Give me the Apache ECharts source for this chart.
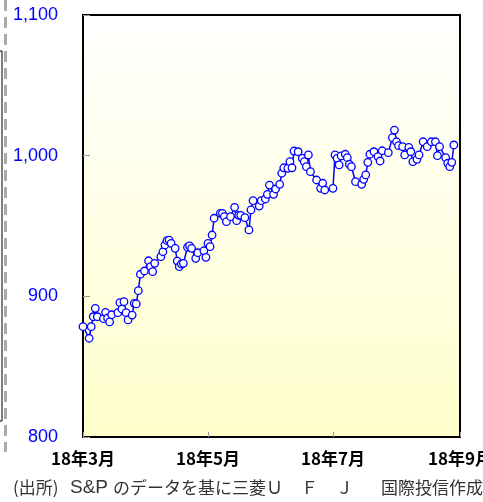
<!DOCTYPE html>
<html>
<head>
<meta charset="utf-8">
<script src="https://cdn.jsdelivr.net/npm/echarts@6/dist/echarts.min.js"></script>
<style>
  html, body { margin: 0; padding: 0; background: #ffffff; }
  #chart { width: 483px; height: 502px; }
</style>
</head>
<body>
<div id="chart"></div>
<script>
// Index level, daily closes from 1 Mar 2018 to end of Aug 2018.
// x values are calendar days counted from 2018-03-01.
var dayIndex = [
  0, 3, 4, 5, 6, 7, 10, 11, 12, 13, 14, 17, 18, 19, 20, 21, 22, 24, 25, 26, 27, 28, 30,
  32, 33, 34, 35, 38, 39, 40, 41, 42, 43, 45, 46, 47, 48, 49, 51, 52, 53, 55, 56, 59, 60,
  61, 62, 63, 64, 67, 68, 69, 70, 72, 74, 75, 76, 77, 79, 81, 82, 83, 86, 87, 89, 90, 91,
  93, 94, 96, 97, 98, 100, 101, 102, 103, 105, 107, 108, 109, 110, 111, 114, 116, 117, 118,
  122, 123, 124, 125, 126, 128, 129, 130, 131, 133, 136, 137, 138, 139, 140, 142, 144, 145, 146, 149, 151, 152,
  153, 154, 156, 157, 159, 160, 161, 163, 164, 166, 168, 170, 172, 173, 174, 177, 178, 179, 180, 181
];
var indexValues = [
  878.4, 870.2, 878.4, 885.5, 891.5, 885.5, 884.1, 888.6, 884.6, 881.8, 886.9, 888.4, 895.5, 891.0, 896.2, 888.4, 883.2, 886.7, 895.0, 894.6, 904.0, 915.7, 918.0,
  925.3, 921.1, 917.5, 923.5, 928.2, 931.7, 936.5, 939.6, 940.0, 937.7, 934.1, 925.1, 921.1, 923.0, 923.5, 934.9, 935.8, 934.1, 927.0, 931.0, 932.4, 927.7,
  937.7, 935.3, 943.6, 955.5, 959.0, 959.0, 956.6, 953.1, 956.6, 963.3, 953.8, 957.6, 957.6, 955.9, 947.2, 961.4, 968.0, 964.2, 968.0, 969.2, 972.5, 979.1,
  972.5, 976.3, 979.6, 987.5, 991.4, 991.0, 995.7, 991.4, 1003.3, 1002.8, 998.1, 995.7, 992.2, 1000.5, 988.6, 982.7, 976.8, 980.4, 975.6,
  976.8, 1000.5, 998.1, 993.4, 999.8, 1001.0, 998.6, 993.9, 992.2, 981.5, 979.6, 983.2, 986.3, 995.3, 1001.0, 1002.8, 999.3, 996.2, 1003.5, 1002.1, 1012.8, 1018.2,
  1009.9, 1007.1, 1006.4, 1000.5, 1005.9, 1002.8, 995.7, 997.4, 1000.5, 1009.9, 1006.4, 1009.9, 1009.9, 1000.0, 1006.4, 998.6, 994.6, 992.2, 995.3, 1007.6
];

// x-axis ticks (1 Mar, 1 May, 1 Jul, 1 Sep as day offsets) and their labels
var tickDays = [0, 61, 122, 184];
var tickLabels = ['18年3月', '18年5月', '18年7月', '18年9月'];

// y-axis range
var yMin = 800, yMax = 1100, yStep = 100;

// source note, split into runs so each can be spaced like the print layout
var noteRuns = [
  ['paren', '(出所)'],
  ['latin', 'S&P'],
  ['body', 'のデータを基に三菱'],
  ['wide', 'Ｕ'],
  ['wide', 'Ｆ'],
  ['wideEnd', 'Ｊ'],
  ['body', '国際投信作成']
];

var seriesData = dayIndex.map(function (d, i) { return [d, indexValues[i]]; });

var noteText = noteRuns.map(function (r) { return '{' + r[0] + '|' + r[1] + '}'; }).join('');
var noteBase = { fontSize: 17, fill: '#333333', fontFamily: '"Noto Sans CJK JP", sans-serif', lineHeight: 20 };
function noteStyle(extra) {
  var s = {};
  for (var k in noteBase) s[k] = noteBase[k];
  for (var j in extra) s[j] = extra[j];
  return s;
}

var chart = echarts.init(document.getElementById('chart'), null, { renderer: 'canvas' });

chart.setOption({
  animation: false,
  backgroundColor: '#ffffff',
  grid: {
    left: 83, right: 23, top: 15, bottom: 65,
    outerBoundsMode: 'none',
    containLabel: false,
    show: true,
    borderColor: '#000000',
    borderWidth: 2,
    backgroundColor: {
      type: 'linear', x: 0, y: 0, x2: 0, y2: 1,
      colorStops: [
        { offset: 0, color: '#ffffff' },
        { offset: 1, color: '#ffffcc' }
      ]
    }
  },
  xAxis: {
    type: 'value',
    min: tickDays[0],
    max: tickDays[tickDays.length - 1],
    axisLine: { show: true, lineStyle: { color: '#000000', width: 2 } },
    axisTick: {
      show: true, inside: true, length: 5,
      customValues: tickDays,
      lineStyle: { color: '#999999', width: 1 }
    },
    axisLabel: {
      show: true,
      customValues: tickDays,
      margin: 13,
      color: '#000000',
      fontSize: 17,
      fontWeight: 'bold',
      fontFamily: '"Noto Sans CJK JP", sans-serif',
      formatter: function (value) {
        var idx = tickDays.indexOf(value);
        return idx >= 0 ? tickLabels[idx] : '';
      }
    },
    splitLine: { show: false }
  },
  yAxis: {
    type: 'value',
    min: yMin,
    max: yMax,
    interval: yStep,
    axisLine: { show: true, lineStyle: { color: '#000000', width: 2 } },
    axisTick: { show: true, inside: true, length: 7, lineStyle: { color: '#999999', width: 1 } },
    axisLabel: {
      margin: 25,
      color: '#0000ff',
      fontSize: 18,
      fontFamily: '"Liberation Sans", Arial, sans-serif',
      formatter: function (v) { return v.toLocaleString('en-US'); }
    },
    splitLine: { show: false }
  },
  series: [{
    type: 'line',
    data: seriesData,
    symbol: 'circle',
    symbolSize: 7.5,
    showSymbol: true,
    lineStyle: { color: '#0000ff', width: 1.5 },
    itemStyle: { color: '#ffffff', borderColor: '#0000ff', borderWidth: 1.3 },
    z: 3
  }],
  graphic: [
    {
      type: 'line',
      shape: { x1: 5.5, y1: 0, x2: 5.5, y2: 452 },
      style: { stroke: '#aaaaaa', lineWidth: 3, lineDash: [11, 6] }
    },
    {
      type: 'polyline',
      shape: { points: [[0, 51], [2, 51], [2, 421], [0, 421]] },
      style: { stroke: '#000000', lineWidth: 1, fill: null }
    },
    {
      type: 'text',
      left: 13,
      top: 478,
      style: {
        text: noteText,
        fill: '#333333',
        fontSize: 17,
        fontFamily: '"Noto Sans CJK JP", sans-serif',
        rich: {
          paren: noteStyle({ width: 57, align: 'left' }),
          latin: noteStyle({ width: 43, align: 'left', fontFamily: '"Liberation Sans", Arial, sans-serif', fontSize: 19 }),
          body: noteStyle({}),
          wide: noteStyle({ width: 35, align: 'left' }),
          wideEnd: noteStyle({ width: 45, align: 'left' })
        }
      }
    }
  ]
});
</script>
</body>
</html>
